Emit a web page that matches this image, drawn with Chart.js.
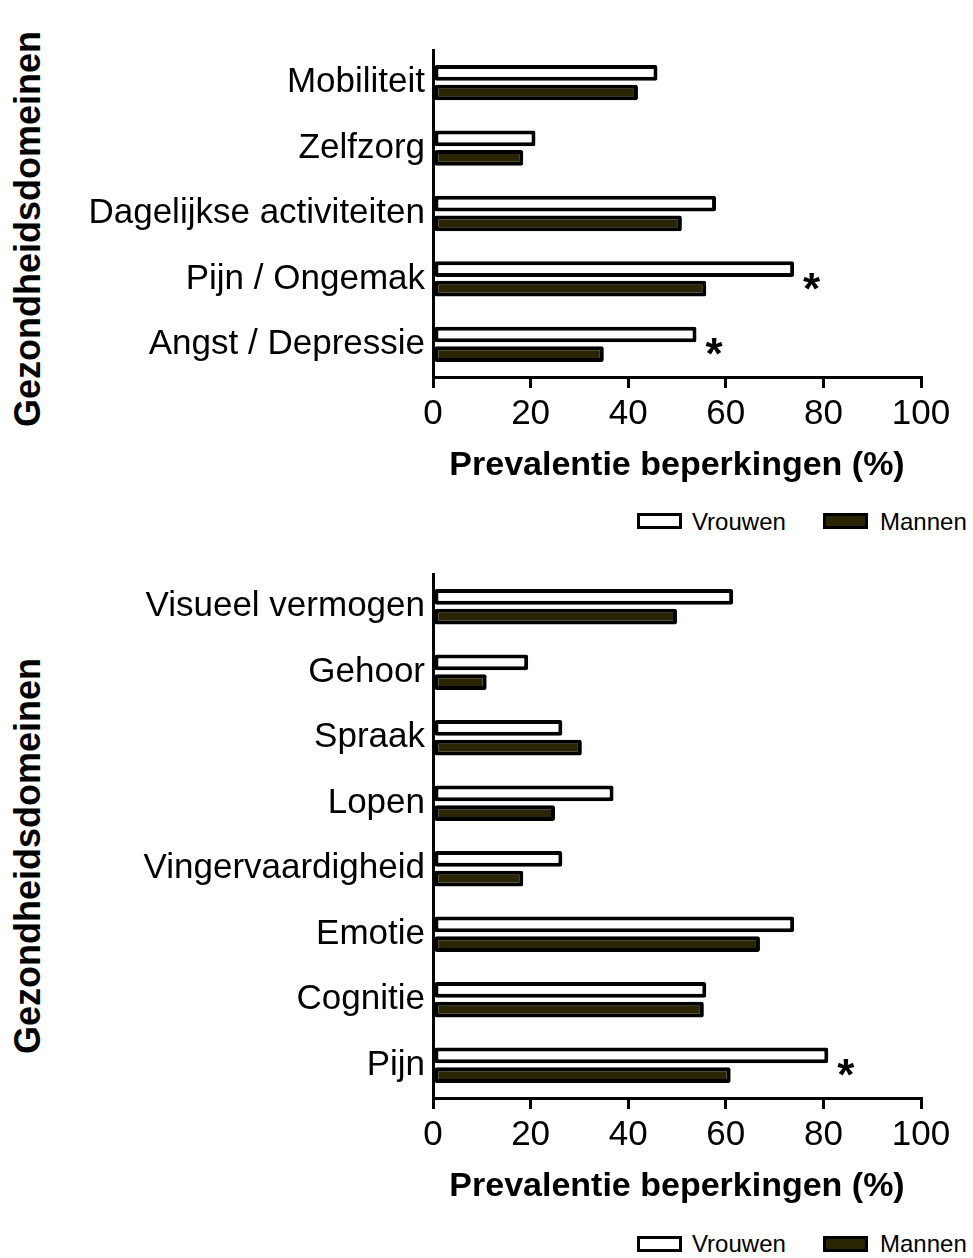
<!DOCTYPE html>
<html>
<head>
<meta charset="utf-8">
<script src="https://cdn.jsdelivr.net/npm/chart.js@4.4.1/dist/chart.umd.min.js"></script>
<style>
body{margin:0;background:#fff;width:973px;height:1258px;position:relative;overflow:hidden;font-family:"Liberation Sans",Arial,sans-serif;color:#000}
.wrap{position:absolute;left:0;width:973px}
.ytitle{position:absolute;font-weight:bold;font-size:36px;white-space:nowrap;transform:translate(-50%,-50%) rotate(-90deg)}
.box{position:absolute;width:39px;height:10px;border:3px solid #000;background:#fff}
.box.dark{background:#2a2503}
.lab{position:absolute;font-size:24px;line-height:24px;white-space:nowrap}
</style>
</head>
<body>
<div class="ytitle" style="left:28px;top:229px">Gezondheidsdomeinen</div>
<div class="wrap" style="top:0;height:486px"><canvas id="dia1"></canvas></div>
<div class="box" style="left:637px;top:513px"></div><div class="lab" style="left:692px;top:510px">Vrouwen</div>
<div class="box dark" style="left:823px;top:513px"></div><div class="lab" style="left:880px;top:510px">Mannen</div>

<div class="ytitle" style="left:28px;top:856px">Gezondheidsdomeinen</div>
<div class="wrap" style="top:524px;height:683px"><canvas id="dia2"></canvas></div>
<div class="box" style="left:637px;top:1236px"></div><div class="lab" style="left:692px;top:1232px">Vrouwen</div>
<div class="box dark" style="left:823px;top:1236px"></div><div class="lab" style="left:880px;top:1232px">Mannen</div>

<script>
// bovenste grafiek
const topDomains = ["Mobiliteit", "Zelfzorg", "Dagelijkse activiteiten", "Pijn / Ongemak", "Angst / Depressie"];
const topVrouwen = [46, 21, 58, 74, 54];
const topMannen = [42, 18.5, 51, 56, 35];
const topSig = [false, false, false, true, true];

// onderste grafiek
const bottomDomains = ["Visueel vermogen", "Gehoor", "Spraak", "Lopen", "Vingervaardigheid", "Emotie", "Cognitie", "Pijn"];
const bottomVrouwen = [61.5, 19.5, 26.5, 37, 26.5, 74, 56, 81];
const bottomMannen = [50, 11, 30.5, 25, 18.5, 67, 55.5, 61];
const bottomSig = [false, false, false, false, false, false, false, true];

const xTicks = [0, 20, 40, 60, 80, 100];
const xTitle = "Prevalentie beperkingen (%)";

Chart.defaults.font.family = '"Liberation Sans", Arial, sans-serif';
Chart.defaults.color = "#000";

// sterretjes achter de balk van de vrouwen
const stars = {
  id: "stars",
  afterDatasetsDraw(chart, args, opts) {
    let ctx = chart.ctx;
    let meta = chart.getDatasetMeta(0);
    let y = chart.scales.y;
    ctx.save();
    ctx.font = 'bold 44px "Liberation Sans", Arial, sans-serif';
    ctx.fillStyle = "#000";
    ctx.textAlign = "left";
    ctx.textBaseline = "alphabetic";
    opts.flags.forEach((f, i) => {
      if (!f) return;
      let bar = meta.data[i];
      ctx.fillText("*", bar.x + 9, y.getPixelForValue(i) + 25);
    });
    ctx.restore();
  }
};

function makeChart(el, labels, vrouwen, mannen, flags) {
  return new Chart(el, {
    type: "bar",
    data: {
      labels: labels,
      datasets: [{
        label: "Vrouwen",
        data: vrouwen,
        backgroundColor: "#ffffff",
        borderColor: "#000",
        borderWidth: 4,
        borderSkipped: false,
        borderRadius: 2,
        categoryPercentage: 0.6,
        barPercentage: 0.8
      }, {
        label: "Mannen",
        data: mannen,
        backgroundColor: "#2a2503",
        borderColor: "#000",
        borderWidth: 4,
        borderSkipped: false,
        borderRadius: 2,
        categoryPercentage: 0.6,
        barPercentage: 0.8
      }]
    },
    options: {
      indexAxis: "y",
      responsive: true,
      maintainAspectRatio: false,
      animation: false,
      events: [],
      layout: { padding: { top: 50, right: 52, left: 0, bottom: 0 } },
      plugins: {
        legend: { display: false },
        tooltip: { enabled: false },
        stars: { flags: flags }
      },
      scales: {
        y: {
          afterFit: s => { s.width = 433; },
          ticks: { font: { size: 35 }, color: "#000", padding: 0 },
          grid: { display: false },
          border: { display: true, color: "#000", width: 3 }
        },
        x: {
          min: 0,
          max: 100,
          afterBuildTicks: s => { s.ticks = xTicks.map(v => ({ value: v })); },
          afterFit: s => { s.height = 109; },
          ticks: { font: { size: 35 }, color: "#000", padding: 5 },
          grid: { drawOnChartArea: false, tickLength: 11, tickWidth: 3, tickColor: "#000", lineWidth: 3, color: "#000" },
          border: { color: "#000", width: 3 },
          title: { display: true, text: xTitle, color: "#000", font: { size: 34, weight: "bold" }, padding: { top: 10, bottom: 0 } }
        }
      }
    },
    plugins: [stars]
  });
}

makeChart(document.getElementById("dia1"), topDomains, topVrouwen, topMannen, topSig);
makeChart(document.getElementById("dia2"), bottomDomains, bottomVrouwen, bottomMannen, bottomSig);
</script>
</body>
</html>
